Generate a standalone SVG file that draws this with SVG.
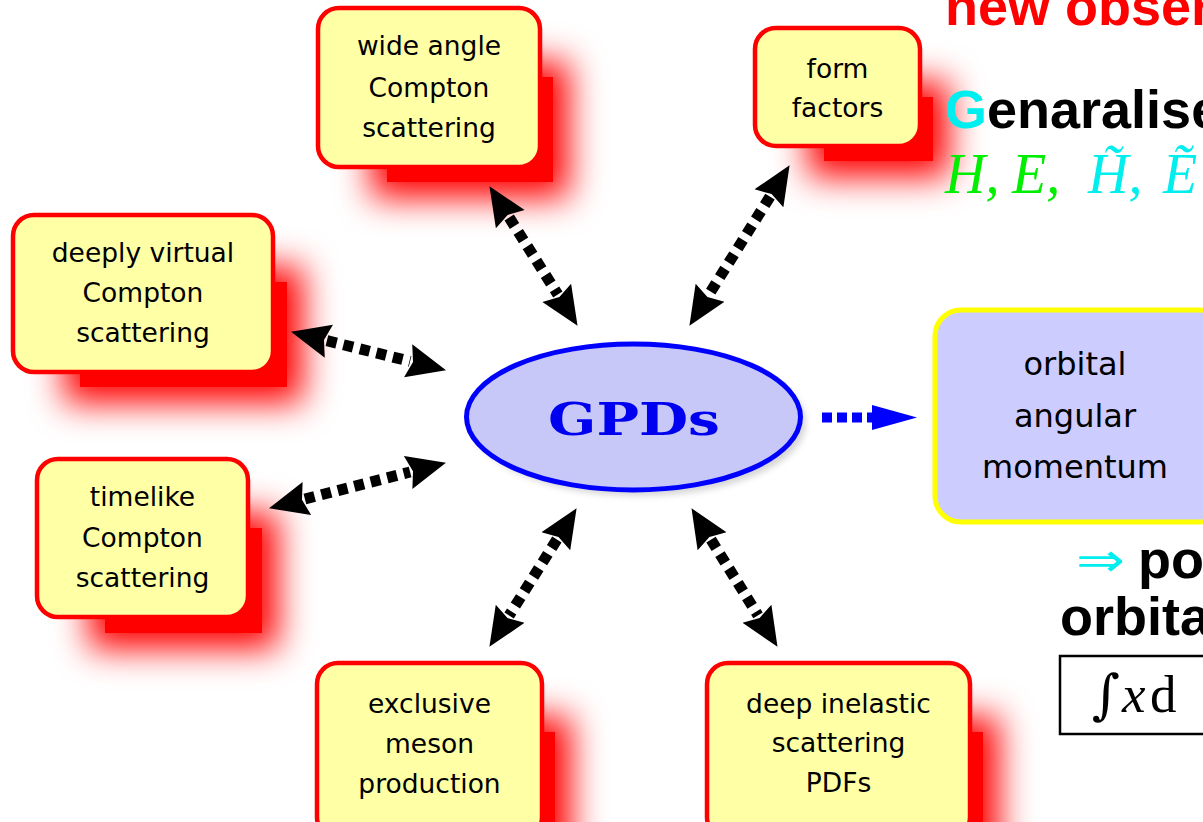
<svg xmlns="http://www.w3.org/2000/svg" width="1203" height="822" viewBox="0 0 1203 822">
<style>
.box{fill:#FFFFA6;stroke:#FF0000;stroke-width:4.5}
.sh{fill:#FF0000}
.halo{fill:#FF0000;filter:url(#blur)}
.lbl{font-family:"DejaVu Sans","Liberation Sans",sans-serif;font-size:26.5px;fill:#000;text-anchor:middle}
.big{font-family:"DejaVu Sans","Liberation Sans",sans-serif;font-size:32px;fill:#000;text-anchor:middle}
.hb{font-family:"Liberation Sans",Arial,sans-serif;font-size:54px;font-weight:bold}
.mi{font-family:"Liberation Serif","Times New Roman",serif;font-size:56px;font-style:italic}
.conn{fill:none;stroke:#000;stroke-width:11;stroke-dasharray:10 7;marker-start:url(#ah);marker-end:url(#ah)}
</style>
<defs>
<filter id="blur" x="-60%" y="-60%" width="220%" height="220%"><feGaussianBlur stdDeviation="17"/></filter>
<filter id="soft" x="-20%" y="-20%" width="140%" height="140%"><feGaussianBlur stdDeviation="3"/></filter>
<marker id="ah" markerUnits="userSpaceOnUse" viewBox="0 -18 40 36" markerWidth="40" markerHeight="36" refX="2" refY="0" orient="auto-start-reverse">
<path d="M0,-17 L39,0 L0,17 L5,0 Z" fill="#000"/>
</marker>
<marker id="bh" markerUnits="userSpaceOnUse" viewBox="0 -14 46 28" markerWidth="46" markerHeight="28" refX="1" refY="0" orient="auto">
<path d="M0,-12.5 L45,0 L0,12.5 Z" fill="#0000FF"/>
</marker>
</defs>
<rect width="1203" height="822" fill="#FFFFFF"/>

<g id="node-wide-angle">
<rect class="halo" x="371" y="61" width="198" height="137"/>
<rect class="sh" x="387" y="77" width="166" height="105"/>
<rect class="box" x="318" y="8" width="222" height="159" rx="21"/>
<text class="lbl" x="429" y="55">wide angle</text>
<text class="lbl" x="429" y="97">Compton</text>
<text class="lbl" x="429" y="137">scattering</text>
</g>

<g id="node-form-factors">
<rect class="halo" x="808" y="81" width="141" height="96"/>
<rect class="sh" x="824" y="97" width="109" height="64"/>
<rect class="box" x="755" y="28" width="165" height="118" rx="21"/>
<text class="lbl" x="837.5" y="78">form</text>
<text class="lbl" x="837.5" y="117">factors</text>
</g>

<g id="node-deeply-virtual">
<rect class="halo" x="64" y="266" width="239" height="137"/>
<rect class="sh" x="80" y="282" width="207" height="105"/>
<rect class="box" x="13" y="215" width="260" height="157" rx="21"/>
<text class="lbl" x="143" y="262">deeply virtual</text>
<text class="lbl" x="143" y="302">Compton</text>
<text class="lbl" x="143" y="342">scattering</text>
</g>

<g id="node-timelike">
<rect class="halo" x="89" y="512" width="189" height="137"/>
<rect class="sh" x="105" y="528" width="157" height="105"/>
<rect class="box" x="37" y="459" width="211" height="158" rx="21"/>
<text class="lbl" x="142.5" y="506">timelike</text>
<text class="lbl" x="142.5" y="547">Compton</text>
<text class="lbl" x="142.5" y="587">scattering</text>
</g>

<g id="node-exclusive-meson">
<rect class="halo" x="370" y="716" width="201" height="150"/>
<rect class="sh" x="386" y="732" width="169" height="120"/>
<rect class="box" x="317" y="663" width="225" height="175" rx="21"/>
<text class="lbl" x="429.5" y="713">exclusive</text>
<text class="lbl" x="429.5" y="753">meson</text>
<text class="lbl" x="429.5" y="793">production</text>
</g>

<g id="node-deep-inelastic">
<rect class="halo" x="760" y="716" width="239" height="150"/>
<rect class="sh" x="776" y="732" width="207" height="120"/>
<rect class="box" x="707" y="663" width="263" height="175" rx="21"/>
<text class="lbl" x="838.5" y="713">deep inelastic</text>
<text class="lbl" x="838.5" y="752">scattering</text>
<text class="lbl" x="838.5" y="792">PDFs</text>
</g>

<g id="node-gpds">
<ellipse cx="639" cy="423" rx="167" ry="73" fill="#888888" opacity="0.35" filter="url(#soft)"/>
<ellipse cx="633.5" cy="417" rx="167" ry="73" fill="#C8C8F8" stroke="#0000FF" stroke-width="5"/>
<text x="634" y="435" font-family="'DejaVu Serif','Liberation Serif',serif" font-weight="bold" font-size="45" fill="#0000F0" text-anchor="middle" textLength="172" lengthAdjust="spacingAndGlyphs">GPDs</text>
</g>

<g id="node-orbital">
<rect x="935" y="310" width="290" height="212" rx="26" fill="#CCCCFF" stroke="#FFFF00" stroke-width="5"/>
<text class="big" x="1075" y="375">orbital</text>
<text class="big" x="1075" y="427">angular</text>
<text class="big" x="1075" y="478">momentum</text>
</g>

<g id="connectors">
<path class="conn" d="M509.2,217.5 L557.8,294.5"/>
<path class="conn" d="M770,196.6 L709,294.4"/>
<path class="conn" d="M326.9,340.7 L410.1,361.3"/>
<path class="conn" d="M304.9,499 L410.1,472"/>
<path class="conn" d="M556.9,539.5 L509.1,615.5"/>
<path class="conn" d="M711,539.6 L758,615.4"/>
<path d="M822,417.5 L873,417.5" fill="none" stroke="#0000FF" stroke-width="10" stroke-dasharray="10 5" marker-end="url(#bh)"/>
</g>

<g id="side-text">
<text class="hb" x="945" y="25" fill="#FF0000">new obser</text>
<text class="hb" x="945" y="128"><tspan fill="#00EEEE">G</tspan><tspan fill="#000">enaralise</tspan></text>
<text class="mi" y="193"><tspan x="945" fill="#00EE00">H,</tspan><tspan x="1012" fill="#00EE00">E,</tspan><tspan x="1088" fill="#00EEEE">H̃,</tspan><tspan x="1163" fill="#00EEEE">Ẽ</tspan></text>
<text x="1076" y="576" font-family="'DejaVu Sans',sans-serif" font-size="46" fill="#00EEEE" textLength="49" lengthAdjust="spacingAndGlyphs">⇒</text>
<text class="hb" x="1138" y="578" fill="#000">po</text>
<text class="hb" x="1060" y="635" fill="#000">orbita</text>
<rect x="1060" y="656" width="160" height="78" fill="none" stroke="#000" stroke-width="2.5"/>
<text x="1092" y="713" font-family="'DejaVu Serif','Liberation Serif',serif" font-size="54" fill="#000">∫</text>
<text class="mi" x="1122" y="712" fill="#000" style="font-size:53px">x</text>
<text x="1150" y="712" font-family="'Liberation Serif',serif" font-size="53" fill="#000">d</text>
</g>
</svg>
